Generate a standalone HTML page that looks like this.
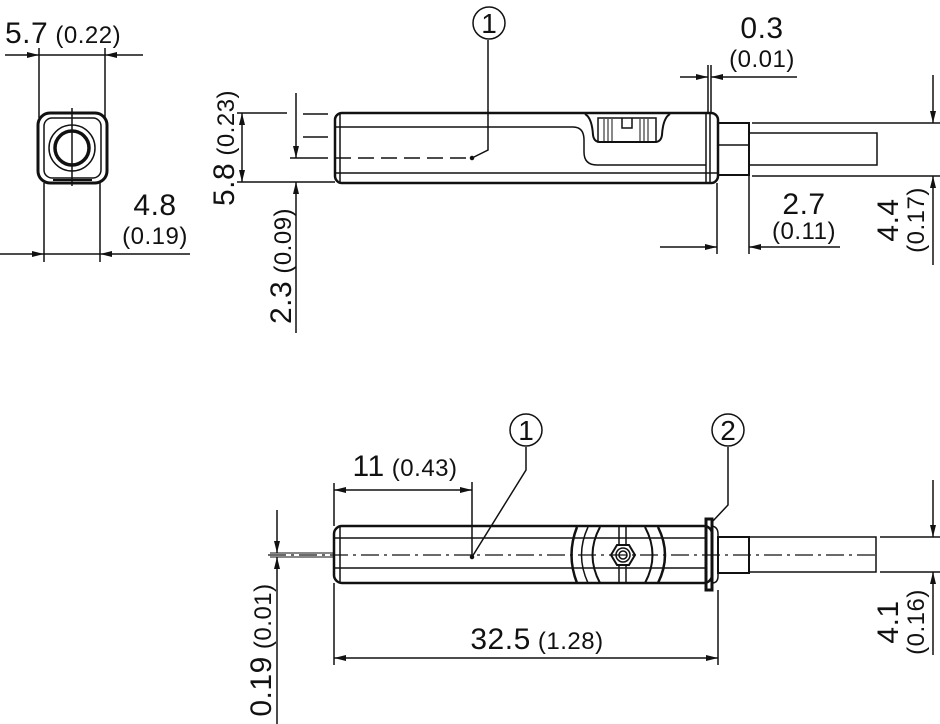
<!DOCTYPE html>
<html><head><meta charset="utf-8"><style>
html,body{margin:0;padding:0;background:#fff}
svg{display:block}
text{font-family:"Liberation Sans",sans-serif;fill:#111}
.b{font-size:30px;letter-spacing:0.5px}.s{font-size:24px;letter-spacing:0.5px}
</style></head><body>
<svg width="940" height="724" viewBox="0 0 940 724" xmlns="http://www.w3.org/2000/svg">
<defs>
<marker id="a" viewBox="0 0 12 6" refX="12" refY="3" markerWidth="12" markerHeight="6" markerUnits="userSpaceOnUse" orient="auto"><path d="M0,0L12,3L0,6z" fill="#111"/></marker>
</defs>
<g stroke="#111" fill="none" stroke-width="1.5">
<!-- End view -->
<rect x="38" y="113" width="69" height="70" rx="12" stroke-width="3"/>
<rect x="44" y="118" width="57" height="60" rx="8"/>
<circle cx="72" cy="148" r="23"/>
<circle cx="72" cy="148" r="17" stroke-width="3.5"/>
<line x1="72" y1="108" x2="72" y2="186"/>
<line x1="53" y1="180" x2="92" y2="180" stroke-width="2"/>
<line x1="39" y1="48" x2="39" y2="118"/><line x1="105" y1="48" x2="105" y2="118"/>
<line x1="5" y1="55" x2="39" y2="55" marker-end="url(#a)"/><line x1="143" y1="55" x2="105" y2="55" marker-end="url(#a)"/>
<line x1="39" y1="55" x2="105" y2="55"/>
<line x1="44" y1="183" x2="44" y2="262"/><line x1="100" y1="183" x2="100" y2="262"/>
<line x1="0" y1="254" x2="44" y2="254" marker-end="url(#a)"/><line x1="190" y1="254" x2="100" y2="254" marker-end="url(#a)"/>
<line x1="44" y1="254" x2="100" y2="254"/>

<!-- Side view top -->
<rect x="335" y="113" width="383" height="70" rx="7" stroke-width="2.5"/>
<line x1="340" y1="114" x2="340" y2="182"/>
<line x1="335" y1="127" x2="573" y2="127"/>
<line x1="335" y1="173" x2="718" y2="173"/>
<line x1="706" y1="114" x2="706" y2="182"/><line x1="710" y1="113" x2="710" y2="183"/>
<path d="M573,127 Q584,127 584,140 L584,152 Q584,165 597,165 L706,165"/>
<path d="M585,114 Q592,118 593,135 Q594,142 600,142 L655,142 Q661,142 662,135 Q663,118 670,114" stroke-width="2"/>
<rect x="598" y="118" width="58" height="24"/>
<path d="M622,118 v10 h10 v-10"/>
<g stroke-width="1"><line x1="604" y1="119" x2="604" y2="141"/><line x1="608" y1="119" x2="608" y2="141"/><line x1="612" y1="119" x2="612" y2="141"/><line x1="640" y1="119" x2="640" y2="141"/><line x1="644" y1="119" x2="644" y2="141"/><line x1="648" y1="119" x2="648" y2="141"/></g>
<rect x="718" y="123" width="31" height="52" stroke-width="2"/>
<line x1="718" y1="145" x2="749" y2="145"/>
<path d="M749,133 H877 V165 H749"/>
<line x1="335" y1="158" x2="472" y2="158" stroke-dasharray="16,7"/>
<circle cx="472" cy="158" r="1.5" fill="#111"/>
<circle cx="489" cy="23" r="16"/>
<path d="M488,40 V150 L472,158"/>
<!-- 0.3 -->
<line x1="708" y1="65" x2="708" y2="113"/><line x1="711" y1="65" x2="711" y2="113"/>
<line x1="680" y1="77" x2="708" y2="77" marker-end="url(#a)"/><line x1="797" y1="77" x2="711" y2="77" marker-end="url(#a)"/>
<!-- 2.7 -->
<line x1="717" y1="183" x2="717" y2="254"/><line x1="749" y1="175" x2="749" y2="254"/>
<line x1="660" y1="247" x2="717" y2="247" marker-end="url(#a)"/><line x1="840" y1="247" x2="749" y2="247" marker-end="url(#a)"/>
<!-- 4.4 -->
<line x1="752" y1="123" x2="940" y2="123"/><line x1="752" y1="176" x2="940" y2="176"/>
<line x1="933" y1="75" x2="933" y2="123" marker-end="url(#a)"/><line x1="933" y1="265" x2="933" y2="176" marker-end="url(#a)"/>
<!-- 5.8 -->
<line x1="237" y1="113" x2="287" y2="113"/><line x1="237" y1="182" x2="335" y2="182"/>
<line x1="242" y1="147" x2="242" y2="113" marker-end="url(#a)"/><line x1="242" y1="147" x2="242" y2="182" marker-end="url(#a)"/>
<!-- 2.3 -->
<line x1="303" y1="137" x2="328" y2="137"/><line x1="290" y1="158" x2="328" y2="158"/>
<line x1="303" y1="114" x2="328" y2="114"/>
<line x1="296" y1="93" x2="296" y2="158" marker-end="url(#a)"/><line x1="296" y1="333" x2="296" y2="182" marker-end="url(#a)"/>

<!-- Bottom view -->
<rect x="334" y="526" width="378" height="57" rx="8" stroke-width="2.5"/>
<line x1="340" y1="527" x2="340" y2="582"/>
<line x1="334" y1="538" x2="706" y2="538"/><line x1="334" y1="568" x2="706" y2="568"/>
<rect x="706" y="519" width="6" height="71" stroke-width="3"/>
<path d="M712,526 Q718,527 718,534 V576 Q718,583 712,583"/>
<rect x="718" y="537" width="31" height="36" stroke-width="2"/>
<path d="M749,537 H876 V572 H749"/>
<path d="M577,527 Q566,555 577,583" stroke-width="2.5"/><path d="M588,527 Q575,555 588,583" stroke-width="1.5"/>
<path d="M600,527 Q585,555 600,583" stroke-width="2"/>
<path d="M645,527 Q660,555 645,583" stroke-width="2"/>
<path d="M658,527 Q672,555 658,583" stroke-width="2.5"/>
<line x1="619" y1="526" x2="619" y2="544"/><line x1="626" y1="526" x2="626" y2="544"/>
<line x1="619" y1="566" x2="619" y2="583"/><line x1="626" y1="566" x2="626" y2="583"/>
<polygon points="611,555 617,545 629,545 635,555 629,565 617,565" stroke-width="2"/>
<circle cx="623" cy="555" r="7"/><circle cx="623" cy="555" r="4"/>
<line x1="268" y1="555" x2="880" y2="555" stroke-dasharray="18,5,3,5" stroke-width="1.2"/>
<line x1="270" y1="553" x2="334" y2="553" stroke-width="1"/><line x1="270" y1="557" x2="334" y2="557" stroke-width="1"/>
<circle cx="472" cy="557" r="1.5" fill="#111"/>
<circle cx="526" cy="430" r="16"/>
<path d="M526,447 V470 L472,557"/>
<circle cx="728" cy="430" r="16"/>
<path d="M728,447 V505 L712,522"/>
<!-- 11 -->
<line x1="334" y1="483" x2="334" y2="526"/><line x1="472" y1="482" x2="472" y2="555"/>
<line x1="400" y1="490" x2="334" y2="490" marker-end="url(#a)"/><line x1="400" y1="490" x2="472" y2="490" marker-end="url(#a)"/>
<!-- 32.5 -->
<line x1="334" y1="583" x2="334" y2="665"/><line x1="718" y1="590" x2="718" y2="665"/>
<line x1="520" y1="658" x2="334" y2="658" marker-end="url(#a)"/><line x1="520" y1="658" x2="718" y2="658" marker-end="url(#a)"/>
<!-- 0.19 -->
<line x1="277" y1="510" x2="277" y2="553" marker-end="url(#a)"/><line x1="277" y1="724" x2="277" y2="557" marker-end="url(#a)"/>
<!-- 4.1 -->
<line x1="880" y1="537" x2="940" y2="537"/><line x1="880" y1="572" x2="940" y2="572"/>
<line x1="933" y1="480" x2="933" y2="537" marker-end="url(#a)"/><line x1="933" y1="655" x2="933" y2="572" marker-end="url(#a)"/>
</g>
<g>
<text x="5" y="43"><tspan class="b">5.7</tspan><tspan class="s"> (0.22)</tspan></text>
<text x="155" y="215" class="b" text-anchor="middle">4.8</text>
<text x="155" y="244" class="s" text-anchor="middle">(0.19)</text>
<text x="489" y="33" font-size="28" text-anchor="middle">1</text>
<text x="762" y="38" class="b" text-anchor="middle">0.3</text>
<text x="762" y="67" class="s" text-anchor="middle">(0.01)</text>
<text x="804" y="214" class="b" text-anchor="middle">2.7</text>
<text x="804" y="239" class="s" text-anchor="middle">(0.11)</text>
<text transform="translate(898,220) rotate(-90)" class="b" text-anchor="middle">4.4</text>
<text transform="translate(924,220) rotate(-90)" class="s" text-anchor="middle">(0.17)</text>
<text transform="translate(234,148) rotate(-90)" text-anchor="middle"><tspan class="b">5.8</tspan><tspan class="s"> (0.23)</tspan></text>
<text transform="translate(291,266) rotate(-90)" text-anchor="middle"><tspan class="b">2.3</tspan><tspan class="s"> (0.09)</tspan></text>
<text x="526" y="440" font-size="28" text-anchor="middle">1</text>
<text x="728" y="440" font-size="28" text-anchor="middle">2</text>
<text x="405" y="476" text-anchor="middle"><tspan class="b">11</tspan><tspan class="s"> (0.43)</tspan></text>
<text x="537" y="649" text-anchor="middle"><tspan class="b">32.5</tspan><tspan class="s"> (1.28)</tspan></text>
<text transform="translate(271,650) rotate(-90)" text-anchor="middle"><tspan class="b">0.19</tspan><tspan class="s"> (0.01)</tspan></text>
<text transform="translate(898,622) rotate(-90)" class="b" text-anchor="middle">4.1</text>
<text transform="translate(924,622) rotate(-90)" class="s" text-anchor="middle">(0.16)</text>
</g>
</svg>
</body></html>
